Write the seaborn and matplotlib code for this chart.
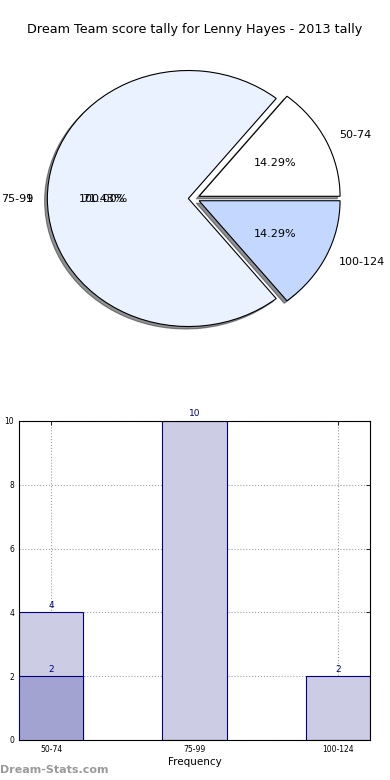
import matplotlib
matplotlib.use("Agg")
import matplotlib.pyplot as plt
import seaborn as sns

# --- data ---
ranges = ['50-74', '75-99', '100-124']
pie_counts = [2, 10, 2]
pie_colors = ['#ffffff', '#eaf1ff', '#c4d8ff']
pie_explode = [0.04, 0.04, 0.04]

bar_counts = [4, 10, 2]
overlay_ranges = ['50-74']
overlay_counts = [2]

title = 'Dream Team score tally for Lenny Hayes - 2013 tally'

sns.set_style('white')
plt.rcParams['font.family'] = ['DejaVu Sans']
plt.rcParams['text.color'] = 'black'

fig = plt.figure(figsize=(3.9, 7.8), dpi=100)
fig.text(0.5, 1 - 30 / 780, title, ha='center', va='center', fontsize=9.2, color='black')

# --- pie ---
ax1 = fig.add_axes([0.1359, 0.5814, 0.723, 0.3282])
wedges, texts, autotexts = ax1.pie(
    pie_counts, labels=ranges, colors=pie_colors, explode=pie_explode,
    autopct='%.2f%%', shadow={'ox': -0.014, 'oy': -0.014, 'shade': 0.85},
    startangle=0, counterclock=True,
    wedgeprops=dict(edgecolor='black', linewidth=0.8),
    textprops=dict(fontsize=8, color='black'))

# second (stray) single-value pie: only its texts show
w2, t2, a2 = ax1.pie([1], labels=['1'], explode=[0.04], autopct='%.2f%%',
                     textprops=dict(fontsize=8, color='black'))
for w in w2:
    w.set_visible(False)

ax1.set_aspect('auto')
ax1.set_xlim(-1, 1)
ax1.set_ylim(-1, 1)
ax1.axis('off')

# --- bars ---
ax2 = fig.add_axes([0.0487, 0.0513, 0.9, 0.409])
sns.barplot(x=ranges, y=bar_counts, order=ranges, color='#ccccE5',
            saturation=1, width=0.45, edgecolor='#000080', linewidth=0.8,
            ax=ax2, zorder=2)
sns.barplot(x=overlay_ranges, y=overlay_counts, order=ranges, color='#a3a3d1',
            saturation=1, width=0.45, edgecolor='#000080', linewidth=0.8,
            ax=ax2, zorder=3)

for i, v in enumerate(bar_counts):
    ax2.text(i, v + 0.08, str(v), ha='center', va='bottom', fontsize=6.5, color='#000080')
for r, v in zip(overlay_ranges, overlay_counts):
    ax2.text(ranges.index(r), v + 0.08, str(v), ha='center', va='bottom',
             fontsize=6.5, color='#000080', zorder=4)

ax2.set_xlim(-0.225, 2.225)
ax2.set_ylim(0, 10)
ax2.set_yticks(range(0, 11, 2))
ax2.tick_params(axis='both', direction='in', labelsize=5.5, length=3, width=0.6,
                top=True, right=True, colors='black')
ax2.grid(True, linestyle=':', color='#a0a0a0', linewidth=0.8, zorder=1)
ax2.set_axisbelow(True)
for s in ax2.spines.values():
    s.set_color('black')
    s.set_linewidth(0.8)
ax2.set_xlabel('Frequency', fontsize=7.5, labelpad=2, color='black')
ax2.set_ylabel('Dream Team Tally', fontsize=7.5, labelpad=6, color='black')

fig.text(0.0, 1 - 770 / 780, 'Dream-Stats.com', ha='left', va='center',
         fontsize=8, fontweight='bold', color='#9a9a9a')

fig.savefig('out.png', dpi=100)
